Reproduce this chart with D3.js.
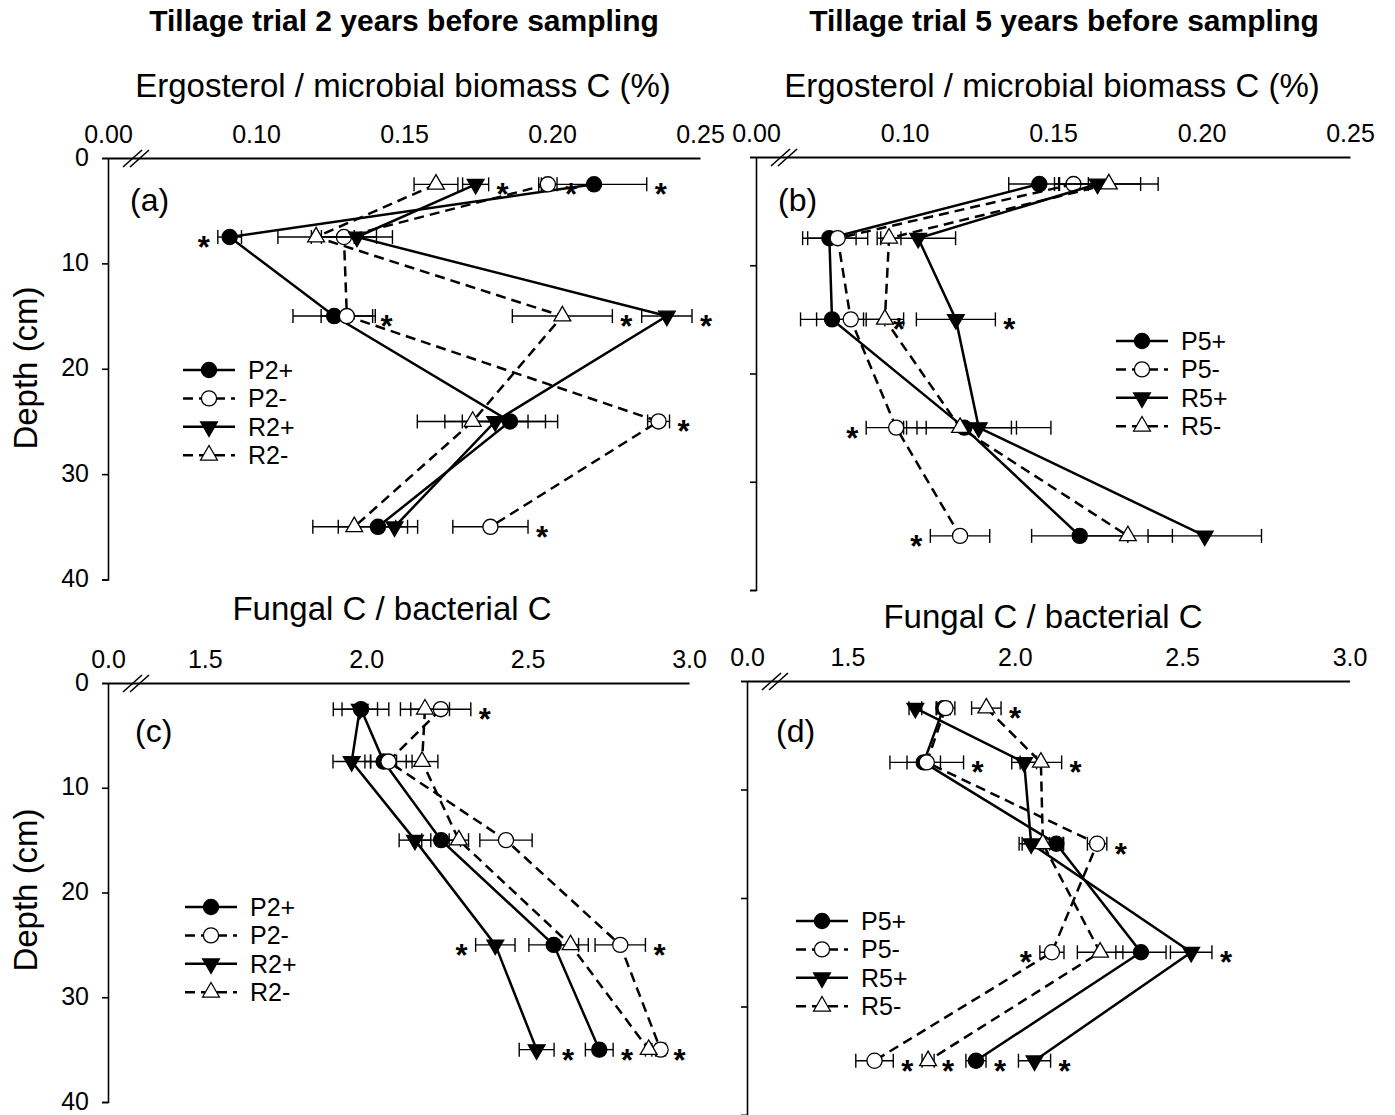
<!DOCTYPE html>
<html>
<head>
<meta charset="utf-8">
<script src="https://cdn.jsdelivr.net/npm/d3@7"></script>
<style>
  body { margin: 0; background: #fff; }
  svg { display: block; }
  text { font-family: "Liberation Sans", Arial, Helvetica, sans-serif; fill: #000; }
</style>
</head>
<body>
<svg id="chart" width="1395" height="1115"></svg>
<script>
// ---- sampling depths and axis ticks ----
const depths = [2.5, 7.5, 15, 25, 35];
const depthTicks = [0, 10, 20, 30, 40];
const ergoTicks = [0.10, 0.15, 0.20, 0.25];
const fbTicks = [1.5, 2.0, 2.5, 3.0];
const names2 = ["P2+", "P2-", "R2+", "R2-"];
const names5 = ["P5+", "P5-", "R5+", "R5-"];

// ---- (a) ergosterol / microbial biomass C (%), trial 2 years ----
// *_se: error bar half-width; *_sig: 1 = asterisk right of bar, -1 = left, 0 = none
const ergo2_P2p = [0.2142, 0.0911, 0.1264, 0.1858, 0.1412];
const ergo2_P2p_se = [0.0178, 0.0040, 0.0139, 0.0161, 0.0134];
const ergo2_P2p_sig = [1, -1, 0, 0, 0];
const ergo2_P2m = [0.1986, 0.1297, 0.1307, 0.2360, 0.1792];
const ergo2_P2m_se = [0.0031, 0.0110, 0.0087, 0.0037, 0.0127];
const ergo2_P2m_sig = [1, 0, 1, 1, 1];
const ergo2_R2p = [0.1742, 0.1341, 0.2388, 0.1808, 0.1468];
const ergo2_R2p_se = [0.0044, 0.0120, 0.0085, 0.0170, 0.0044];
const ergo2_R2p_sig = [1, 0, 1, 0, 0];
const ergo2_R2m = [0.1608, 0.1203, 0.2035, 0.1732, 0.1332];
const ergo2_R2m_se = [0.0074, 0.0129, 0.0169, 0.0187, 0.0140];
const ergo2_R2m_sig = [0, 0, 1, 0, 0];

// ---- (b) ergosterol / microbial biomass C (%), trial 5 years ----
const ergo5_P5p = [0.1454, 0.0747, 0.0756, 0.1201, 0.1590];
const ergo5_P5p_se = [0.0103, 0.0090, 0.0106, 0.0159, 0.0162];
const ergo5_P5p_sig = [0, 0, 0, 0, 0];
const ergo5_P5m = [0.1569, 0.0775, 0.0819, 0.0972, 0.1187];
const ergo5_P5m_se = [0.0050, 0.0101, 0.0115, 0.0101, 0.0100];
const ergo5_P5m_sig = [0, 0, 1, -1, -1];
const ergo5_R5p = [0.1650, 0.1046, 0.1173, 0.1250, 0.2011];
const ergo5_R5p_se = [0.0145, 0.0126, 0.0133, 0.0243, 0.0191];
const ergo5_R5p_sig = [0, 0, 1, 0, 0];
const ergo5_R5m = [0.1688, 0.0948, 0.0934, 0.1187, 0.1752];
const ergo5_R5m_se = [0.0166, 0.0040, 0.0063, 0.0190, 0.0150];
const ergo5_R5m_sig = [0, 0, 0, 0, 0];

// ---- (c) fungal C / bacterial C, trial 2 years ----
const fb2_P2p = [1.984, 2.054, 2.232, 2.581, 2.722];
const fb2_P2p_se = [0.086, 0.040, 0.060, 0.077, 0.043];
const fb2_P2p_sig = [0, 0, 0, 0, 1];
const fb2_P2m = [2.231, 2.069, 2.433, 2.787, 2.912];
const fb2_P2m_se = [0.093, 0.073, 0.081, 0.078, 0.015];
const fb2_P2m_sig = [1, 0, 0, 1, 1];
const fb2_R2p = [1.980, 1.955, 2.151, 2.400, 2.528];
const fb2_R2p_se = [0.055, 0.058, 0.049, 0.061, 0.054];
const fb2_R2p_sig = [0, 0, 0, -1, 1];
const fb2_R2m = [2.182, 2.173, 2.287, 2.633, 2.875];
const fb2_R2m_se = [0.076, 0.049, 0.030, 0.055, 0.010];
const fb2_R2m_sig = [0, 0, 0, 0, 0];

// ---- (d) fungal C / bacterial C, trial 5 years ----
const fb5_P5p = [1.787, 1.728, 2.124, 2.377, 1.884];
const fb5_P5p_se = [0.020, 0.050, 0.020, 0.075, 0.030];
const fb5_P5p_sig = [0, 0, 0, 0, 1];
const fb5_P5m = [1.793, 1.737, 2.246, 2.111, 1.581];
const fb5_P5m_se = [0.028, 0.110, 0.029, 0.036, 0.056];
const fb5_P5m_sig = [0, 1, 1, -1, 1];
const fb5_R5p = [1.703, 2.028, 2.049, 2.527, 2.059];
const fb5_R5p_se = [0.019, 0.037, 0.036, 0.062, 0.048];
const fb5_R5p_sig = [0, 0, 0, 1, 1];
const fb5_R5m = [1.915, 2.078, 2.084, 2.255, 1.741];
const fb5_R5m_se = [0.044, 0.062, 0.062, 0.068, 0.018];
const fb5_R5m_sig = [1, 1, 0, 0, 1];

// ---- helpers ----
function buildSeries(names, vals, ses, sigs) {
  return names.map((n, i) => ({
    name: n,
    values: vals[i],
    se: ses[i],
    sig: sigs[i],
    filled: n.endsWith("+"),
    circle: n[0] === "P",
    dashed: n.endsWith("-")
  }));
}

const panels = [
  {
    letter: "(a)", letterAt: [130, 211],
    box: { x0: 108, x1: 700, y0: 158, y1: 579.5 },
    xDomain: [0.05, 0.25], xTicks: ergoTicks, origin: "0.00", fmt: d3.format(".2f"),
    yLabels: true, legendAt: [183, 370],
    series: buildSeries(names2,
      [ergo2_P2p, ergo2_P2m, ergo2_R2p, ergo2_R2m],
      [ergo2_P2p_se, ergo2_P2m_se, ergo2_R2p_se, ergo2_R2m_se],
      [ergo2_P2p_sig, ergo2_P2m_sig, ergo2_R2p_sig, ergo2_R2m_sig])
  },
  {
    letter: "(b)", letterAt: [778, 211],
    box: { x0: 756, x1: 1350, y0: 157, y1: 590 },
    xDomain: [0.05, 0.25], xTicks: ergoTicks, origin: "0.00", fmt: d3.format(".2f"),
    yLabels: false, legendAt: [1116, 341],
    series: buildSeries(names5,
      [ergo5_P5p, ergo5_P5m, ergo5_R5p, ergo5_R5m],
      [ergo5_P5p_se, ergo5_P5m_se, ergo5_R5p_se, ergo5_R5m_se],
      [ergo5_P5p_sig, ergo5_P5m_sig, ergo5_R5p_sig, ergo5_R5m_sig])
  },
  {
    letter: "(c)", letterAt: [135, 742],
    box: { x0: 108, x1: 689, y0: 683, y1: 1102 },
    xDomain: [1.2, 3.0], xTicks: fbTicks, origin: "0.0", fmt: d3.format(".1f"),
    yLabels: true, legendAt: [185, 907],
    series: buildSeries(names2,
      [fb2_P2p, fb2_P2m, fb2_R2p, fb2_R2m],
      [fb2_P2p_se, fb2_P2m_se, fb2_R2p_se, fb2_R2m_se],
      [fb2_P2p_sig, fb2_P2m_sig, fb2_R2p_sig, fb2_R2m_sig])
  },
  {
    letter: "(d)", letterAt: [776, 742],
    box: { x0: 747, x1: 1349.5, y0: 681, y1: 1115 },
    xDomain: [1.2, 3.0], xTicks: fbTicks, origin: "0.0", fmt: d3.format(".1f"),
    yLabels: false, legendAt: [796, 921],
    series: buildSeries(names5,
      [fb5_P5p, fb5_P5m, fb5_R5p, fb5_R5m],
      [fb5_P5p_se, fb5_P5m_se, fb5_R5p_se, fb5_R5m_se],
      [fb5_P5p_sig, fb5_P5m_sig, fb5_R5p_sig, fb5_R5m_sig])
  }
];

const svg = d3.select("#chart");

const CIRCLE_SIZE = 180;
const TRI_SIZE = 122;
const DASH = "10,6";
const TICK_FONT = 25;

function markerPath(s) {
  return d3.symbol().type(s.circle ? d3.symbolCircle : d3.symbolTriangle)
    .size(s.circle ? CIRCLE_SIZE : TRI_SIZE)();
}

function drawMarker(g, s, cx, cy) {
  const rot = (!s.circle && s.filled) ? " rotate(180)" : "";
  g.append("path")
    .attr("d", markerPath(s))
    .attr("transform", `translate(${cx},${cy})${rot}`)
    .attr("fill", s.filled ? "#000" : "#fff")
    .attr("stroke", "#000")
    .attr("stroke-width", 1.3);
}

// ---- headings ----
svg.append("text").attr("x", 404).attr("y", 31).attr("text-anchor", "middle")
  .attr("font-size", 30).attr("font-weight", "bold")
  .text("Tillage trial 2 years before sampling");
svg.append("text").attr("x", 1064).attr("y", 31).attr("text-anchor", "middle")
  .attr("font-size", 30).attr("font-weight", "bold")
  .text("Tillage trial 5 years before sampling");

svg.append("text").attr("x", 403).attr("y", 97).attr("text-anchor", "middle")
  .attr("font-size", 33).text("Ergosterol / microbial biomass C (%)");
svg.append("text").attr("x", 1052).attr("y", 97).attr("text-anchor", "middle")
  .attr("font-size", 33).text("Ergosterol / microbial biomass C (%)");
svg.append("text").attr("x", 392).attr("y", 620).attr("text-anchor", "middle")
  .attr("font-size", 33).text("Fungal C / bacterial C");
svg.append("text").attr("x", 1043).attr("y", 628).attr("text-anchor", "middle")
  .attr("font-size", 33).text("Fungal C / bacterial C");

[368, 890].forEach(cy => {
  svg.append("text")
    .attr("transform", `translate(37,${cy}) rotate(-90)`)
    .attr("text-anchor", "middle")
    .attr("font-size", 33)
    .text("Depth (cm)");
});

// ---- panels ----
panels.forEach(p => {
  const g = svg.append("g");
  const x = d3.scaleLinear().domain(p.xDomain).range([p.box.x0, p.box.x1]);
  const y = d3.scaleLinear().domain([0, 40]).range([p.box.y0, p.box.y1]);

  // depth axis (left)
  const yAxis = d3.axisLeft(y)
    .tickValues(depthTicks)
    .tickSize(6).tickSizeOuter(6).tickPadding(13)
    .tickFormat(p.yLabels ? d3.format("d") : () => "");
  const gy = g.append("g").attr("transform", `translate(${p.box.x0},0)`).call(yAxis);
  gy.selectAll("path,line").attr("stroke", "#000").attr("stroke-width", 1.6);
  gy.selectAll("text").attr("font-size", TICK_FONT).attr("dy", "0.28em")
    .attr("font-family", '"Liberation Sans", Arial, sans-serif').attr("fill", "#000");
  gy.attr("font-family", null).attr("font-size", null);

  // value axis (top), origin labelled as zero across the break
  const xAxis = d3.axisTop(x)
    .tickValues([p.xDomain[0], ...p.xTicks])
    .tickFormat((d, i) => i === 0 ? p.origin : p.fmt(d))
    .tickSize(0).tickSizeOuter(0).tickPadding(15);
  const gx = g.append("g").attr("transform", `translate(0,${p.box.y0})`).call(xAxis);
  gx.select("path.domain").attr("stroke", "#000").attr("stroke-width", 2.2);
  gx.selectAll("text").attr("font-size", TICK_FONT)
    .attr("font-family", '"Liberation Sans", Arial, sans-serif').attr("fill", "#000");
  gx.attr("font-family", null).attr("font-size", null);

  // axis break marks
  const bx = p.box.x0 + 15, by = p.box.y0;
  [0, 7].forEach(off => {
    g.append("line")
      .attr("x1", bx + off).attr("y1", by + 9)
      .attr("x2", bx + off + 19).attr("y2", by - 8)
      .attr("stroke", "#000").attr("stroke-width", 1.6);
  });

  // panel letter
  g.append("text").attr("x", p.letterAt[0]).attr("y", p.letterAt[1])
    .attr("font-size", 32).text(p.letter);

  // series: error bars, connecting line, markers, significance asterisks
  const line = d3.line()
    .x(d => x(d.v))
    .y(d => y(d.depth));

  p.series.forEach(s => {
    const pts = s.values.map((v, i) => ({ v, depth: depths[i], se: s.se[i], sig: s.sig[i] }));

    pts.forEach(d => {
      const yy = y(d.depth);
      const xa = x(d.v - d.se), xb = x(d.v + d.se);
      g.append("line").attr("x1", xa).attr("x2", xb).attr("y1", yy).attr("y2", yy)
        .attr("stroke", "#000").attr("stroke-width", 1.4);
      [xa, xb].forEach(xc => {
        g.append("line").attr("x1", xc).attr("x2", xc).attr("y1", yy - 7).attr("y2", yy + 7)
          .attr("stroke", "#000").attr("stroke-width", 1.4);
      });
    });

    g.append("path")
      .attr("d", line(pts))
      .attr("fill", "none")
      .attr("stroke", "#000")
      .attr("stroke-width", 2.5)
      .attr("stroke-dasharray", s.dashed ? DASH : null);

    pts.forEach(d => drawMarker(g, s, x(d.v), y(d.depth)));

    pts.filter(d => d.sig !== 0).forEach(d => {
      const xe = x(d.v + d.sig * d.se) + d.sig * 14;
      g.append("text").attr("x", xe).attr("y", y(d.depth) + 21)
        .attr("text-anchor", "middle").attr("font-size", 31)
        .attr("font-weight", "bold").text("*");
    });
  });

  // legend
  const [lx, ly] = p.legendAt;
  p.series.forEach((s, i) => {
    const yy = ly + i * 28.4;
    g.append("line").attr("x1", lx).attr("x2", lx + 52).attr("y1", yy).attr("y2", yy)
      .attr("stroke", "#000").attr("stroke-width", 2.5)
      .attr("stroke-dasharray", s.dashed ? DASH : null);
    drawMarker(g, s, lx + 26, yy);
    g.append("text").attr("x", lx + 65).attr("y", yy + 9)
      .attr("font-size", 25).text(s.name);
  });
});
</script>
</body>
</html>
